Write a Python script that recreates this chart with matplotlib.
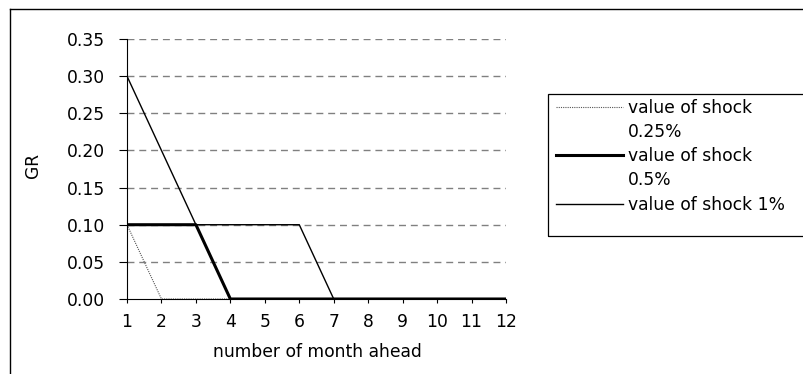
import matplotlib.pyplot as plt
from matplotlib.lines import Line2D
from matplotlib.patches import Rectangle

plt.rcParams['font.family'] = ['DejaVu Sans']

months = [1, 2, 3, 4, 5, 6, 7, 8, 9, 10, 11, 12]
shock_025 = [0.10, 0.00, 0.00, 0.00, 0.00, 0.00, 0.00, 0.00, 0.00, 0.00, 0.00, 0.00]
shock_05 = [0.10, 0.10, 0.10, 0.00, 0.00, 0.00, 0.00, 0.00, 0.00, 0.00, 0.00, 0.00]
shock_1 = [0.30, 0.20, 0.10, 0.10, 0.10, 0.10, 0.00, 0.00, 0.00, 0.00, 0.00, 0.00]
y_ticks = [0.00, 0.05, 0.10, 0.15, 0.20, 0.25, 0.30, 0.35]

FS = 12.3

fig = plt.figure(figsize=(8.04, 3.74), dpi=100)
ax = fig.add_axes([127/804, 1-299/374, (506-127)/804, (299-39)/374])

# gridlines
for y in y_ticks[1:]:
    ax.axhline(y, color='#808080', lw=1.0, ls=(0, (5, 3.5)), zorder=0)

ax.plot(months, shock_025, color='#555555', lw=0.8, ls=(0, (1, 1)), zorder=2)
ax.plot(months, shock_05, color='black', lw=2.2, zorder=3)
ax.plot(months, shock_1, color='black', lw=1.0, zorder=4)

ax.set_xlim(1, 12)
ax.set_ylim(0, 0.35)
ax.set_xticks(months)
ax.set_yticks(y_ticks)
ax.set_yticklabels([f'{v:.2f}' for v in y_ticks])
ax.tick_params(axis='y', direction='out', length=6, width=0.8, pad=10, labelsize=FS)
ax.tick_params(axis='x', direction='out', length=3, width=0.8, pad=7, labelsize=FS)
for s in ['top', 'right']:
    ax.spines[s].set_visible(False)
for s in ['left', 'bottom']:
    ax.spines[s].set_linewidth(0.8)

fig.text(33/804, 1-165/374, 'GR', rotation=90, ha='center', va='center', fontsize=FS)
fig.text(317/804, 1-352/374, 'number of month ahead', ha='center', va='center', fontsize=FS)

# outer border (cropped at right/bottom)
fig.add_artist(Line2D([10/804, 1.0], [1-9/374, 1-9/374], color='black', lw=1.0, transform=fig.transFigure))
fig.add_artist(Line2D([10/804, 10/804], [0.0, 1-9/374], color='black', lw=1.0, transform=fig.transFigure))

# legend frame
fig.add_artist(Rectangle((548/804, 1-236/374), 0.4, (236-94)/374, fill=False,
                         edgecolor='black', lw=0.9, transform=fig.transFigure))

blank = Line2D([], [], color='none')
handles = [
    Line2D([], [], color='#555555', lw=0.8, ls=(0, (1, 1))), blank,
    Line2D([], [], color='black', lw=2.2), blank,
    Line2D([], [], color='black', lw=1.0),
]
labels = ['value of shock', '0.25%', 'value of shock', '0.5%', 'value of shock 1%']
fig.legend(handles, labels, loc='upper left', bbox_to_anchor=(556/804, 1-99/374),
           frameon=False, fontsize=FS, handlelength=3.9, handletextpad=0.3,
           borderpad=0, borderaxespad=0, labelspacing=0.36)

fig.savefig('out.png', dpi=100)
